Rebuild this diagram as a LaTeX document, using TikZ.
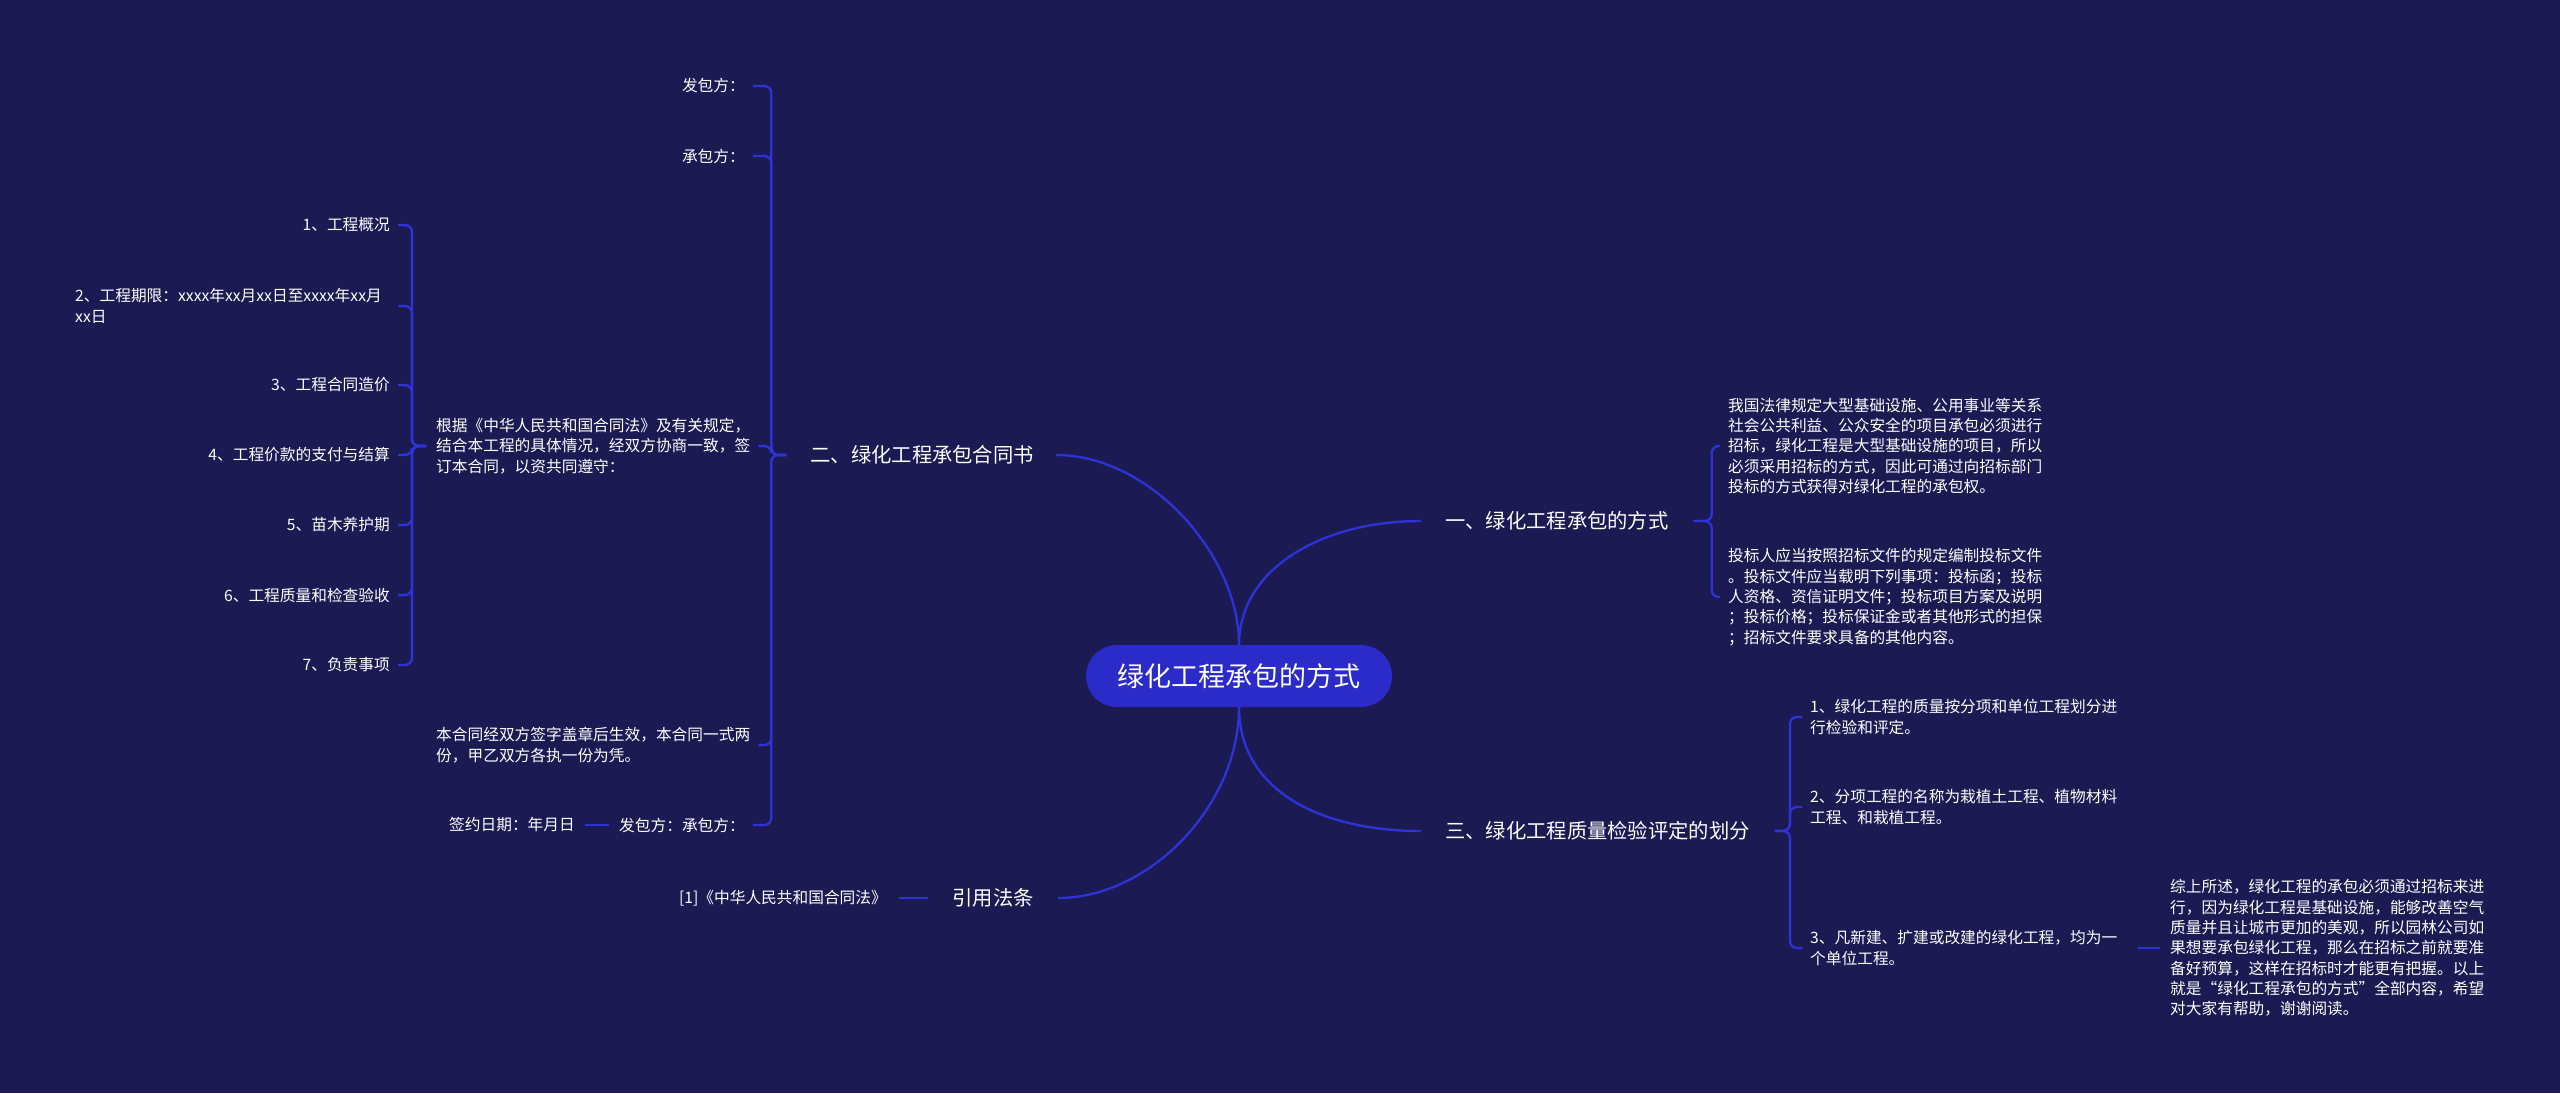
\documentclass[tikz,border=0pt]{standalone}
\usepackage{fontspec}
\setmainfont{Noto Sans CJK SC}
\definecolor{bgc}{HTML}{1B1A53}
\definecolor{rootfill}{HTML}{2A2BC8}
\definecolor{lnc}{HTML}{2E33D8}
\begin{document}
\begin{tikzpicture}[x=1pt,y=-1pt,
  txt/.style={text=white, inner sep=0pt, font=\fontsize{15.7}{20.3}\selectfont, align=left},
  brn/.style={text=white, inner sep=0pt, font=\fontsize{20.3}{26}\selectfont},
  rootn/.style={fill=rootfill, text=white, rounded corners=31pt, minimum width=306pt, minimum height=62pt, inner sep=0pt, font=\fontsize{27}{32}\selectfont},
  conn/.style={draw=lnc, line width=2.3pt, rounded corners=7pt},
  curv/.style={draw=lnc, line width=2.3pt}]
\fill[bgc] (0,0) rectangle (2560,1093);
\useasboundingbox (0,0) rectangle (2560,1093);

% root and main branches
\node[rootn] (root) at (1239,676) {绿化工程承包的方式};
\node[brn, anchor=west] (b1) at (1445,521) {一、绿化工程承包的方式};
\node[brn, anchor=east] (b2) at (1034,455) {二、绿化工程承包合同书};
\node[brn, anchor=west] (b3) at (1445,831) {三、绿化工程质量检验评定的划分};
\node[brn, anchor=east] (b4) at (1034,898) {引用法条};

\draw[curv] (root.north) .. controls (1239,570) and (1320,521) .. ([xshift=-24pt]b1.west);
\draw[curv] (root.north) .. controls (1239,555) and (1150,455) .. ([xshift=22pt]b2.east);
\draw[curv] (root.south) .. controls (1239,790) and (1320,831) .. ([xshift=-24pt]b3.west);
\draw[curv] (root.south) .. controls (1239,805) and (1150,898) .. ([xshift=24pt]b4.east);

% branch 1
\node[txt, anchor=west] (p11) at (1728,446) {我国法律规定大型基础设施、公用事业等关系\\社会公共利益、公众安全的项目承包必须进行\\招标，绿化工程是大型基础设施的项目，所以\\必须采用招标的方式，因此可通过向招标部门\\投标的方式获得对绿化工程的承包权。};
\node[txt, anchor=west] (p12) at (1728,597) {投标人应当按照招标文件的规定编制投标文件\\。投标文件应当载明下列事项：投标函；投标\\人资格、资信证明文件；投标项目方案及说明\\；投标价格；投标保证金或者其他形式的担保\\；招标文件要求具备的其他内容。};
\draw[conn] ([xshift=25pt]b1.east) -- ++(18,0) |- ([xshift=-8pt]p11.west);
\draw[conn] ([xshift=25pt]b1.east) -- ++(18,0) |- ([xshift=-8pt]p12.west);

% branch 3
\node[txt, anchor=west] (c31) at (1810,717) {1、绿化工程的质量按分项和单位工程划分进\\行检验和评定。};
\node[txt, anchor=west] (c32) at (1810,807) {2、分项工程的名称为栽植土工程、植物材料\\工程、和栽植工程。};
\node[txt, anchor=west] (c33) at (1810,948) {3、凡新建、扩建或改建的绿化工程，均为一\\个单位工程。};
\node[txt, anchor=west] (c34) at (2170,948) {综上所述，绿化工程的承包必须通过招标来进\\行，因为绿化工程是基础设施，能够改善空气\\质量并且让城市更加的美观，所以园林公司如\\果想要承包绿化工程，那么在招标之前就要准\\备好预算，这样在招标时才能更有把握。以上\\就是“绿化工程承包的方式”全部内容，希望\\对大家有帮助，谢谢阅读。};
\draw[conn] ([xshift=25pt]b3.east) -- ++(15,0) |- ([xshift=-8pt]c31.west);
\draw[conn] ([xshift=25pt]b3.east) -- ++(15,0) |- ([xshift=-8pt]c32.west);
\draw[conn] ([xshift=25pt]b3.east) -- ++(15,0) |- ([xshift=-8pt]c33.west);
\draw[conn] ([xshift=21pt]c33.east) -- ([xshift=-10pt]c34.west);

% branch 2
\node[txt, anchor=east] (c21) at (745,86) {发包方：};
\node[txt, anchor=east] (c22) at (745,156) {承包方：};
\node[txt, anchor=west] (c23) at (436,446) {根据《中华人民共和国合同法》及有关规定，\\结合本工程的具体情况，经双方协商一致，签\\订本合同，以资共同遵守：};
\node[txt, anchor=west] (c24) at (436,745) {本合同经双方签字盖章后生效，本合同一式两\\份，甲乙双方各执一份为凭。};
\node[txt, anchor=east] (c25) at (745,825) {发包方：承包方：};
\node[txt, anchor=east] (c26) at (575,825) {签约日期：年月日};
\draw[conn] ([xshift=-24pt]b2.west) -- ++(-15,0) |- ([xshift=8pt]c21.east);
\draw[conn] ([xshift=-24pt]b2.west) -- ++(-15,0) |- ([xshift=8pt]c22.east);
\draw[conn] ([xshift=-24pt]b2.west) -- ++(-15,0) |- ([xshift=8pt]c23.east);
\draw[conn] ([xshift=-24pt]b2.west) -- ++(-15,0) |- ([xshift=8pt]c24.east);
\draw[conn] ([xshift=-24pt]b2.west) -- ++(-15,0) |- ([xshift=8pt]c25.east);
\draw[conn] ([xshift=-10pt]c25.west) -- ([xshift=10pt]c26.east);

% children of the contract paragraph
\node[txt, anchor=east] (d1) at (390,225) {1、工程概况};
\node[txt, anchor=west, text width=315pt] (d2) at (75,306) {2、工程期限：xxxx年xx月xx日至xxxx年xx月\\xx日};
\node[txt, anchor=east] (d3) at (390,385) {3、工程合同造价};
\node[txt, anchor=east] (d4) at (390,455) {4、工程价款的支付与结算};
\node[txt, anchor=east] (d5) at (390,525) {5、苗木养护期};
\node[txt, anchor=east] (d6) at (390,595) {6、工程质量和检查验收};
\node[txt, anchor=east] (d7) at (390,665) {7、负责事项};
\foreach \d in {d1,d2,d3,d4,d5,d6,d7}
  \draw[conn] ([xshift=-10pt]c23.west) -- ++(-14,0) |- ([xshift=8pt]\d.east);

% branch 4
\node[txt, anchor=east] (c41) at (887,898) {[1]《中华人民共和国合同法》};
\draw[conn] ([xshift=-24pt]b4.west) -- ([xshift=12pt]c41.east);
\end{tikzpicture}
\end{document}
